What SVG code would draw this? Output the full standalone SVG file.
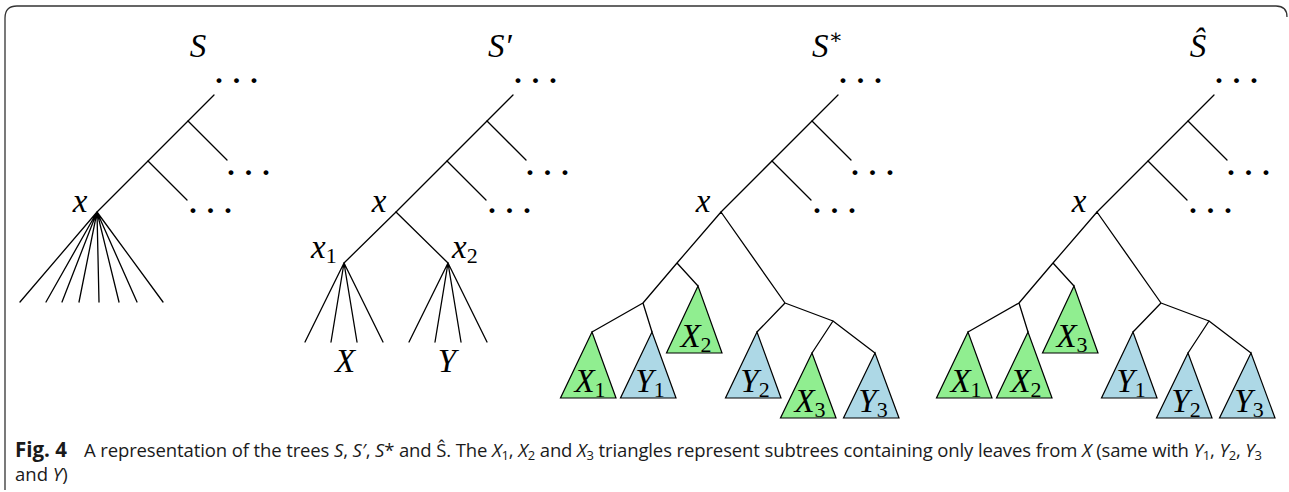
<svg xmlns="http://www.w3.org/2000/svg" width="1289" height="492" viewBox="0 0 1289 492">
<style>
.e{stroke:#000;stroke-width:1.3;fill:none;stroke-linecap:round}
.m{font-family:"Liberation Serif","DejaVu Serif",serif;font-style:italic;font-size:33px;fill:#000}
.d{font-family:"Liberation Serif","DejaVu Serif",serif;font-size:30px;font-weight:bold;fill:#000}
.g{fill:#90ee90;stroke:#000;stroke-width:1.2}
.b{fill:#add8e6;stroke:#000;stroke-width:1.2}
.cap{font-family:"Open Sans","Noto Sans","Liberation Sans",sans-serif;font-size:18.5px;fill:#1a1a1a}
.i{font-style:italic}
.s{font-size:22px;font-style:normal}
</style>
<rect width="1289" height="492" fill="#fff"/>
<path d="M5,490 L5,18 Q5,6 17,6 L1276,6 Q1287,6 1287,17" fill="none" stroke="#333" stroke-width="1.3"/>

<g id="connectors">
 <line class="e" x1="97" y1="212" x2="214" y2="95"/>
 <line class="e" x1="188" y1="121" x2="227" y2="160"/>
 <line class="e" x1="148" y1="161" x2="187" y2="200"/>
 <path class="e" d="M97,212 L20,302 M97,212 L46,302 M97,212 L62,302 M97,212 L79,302 M97,212 L99,302 M97,212 L119,302 M97,212 L137,302 M97,212 L163,302"/>
 <line class="e" x1="396" y1="212" x2="513" y2="95"/>
 <line class="e" x1="487" y1="121" x2="526" y2="160"/>
 <line class="e" x1="447" y1="161" x2="486" y2="200"/>
 <path class="e" d="M396,212 L344,263 M396,212 L448,263"/>
 <path class="e" d="M344,263 L305,342 M344,263 L331,342 M344,263 L357,342 M344,263 L383,342"/>
 <path class="e" d="M448,263 L409,342 M448,263 L435,342 M448,263 L461,342 M448,263 L487,342"/>
 <line class="e" x1="721" y1="212" x2="838" y2="95"/>
 <line class="e" x1="812" y1="121" x2="851" y2="160"/>
 <line class="e" x1="772" y1="161" x2="811" y2="200"/>
 <path class="e" d="M721,212 L677,263 M721,212 L785,303 M677,263 L643,303 M677,263 L698,286 M643,303 L592,332 M643,303 L652,332 M785,303 L757,332 M785,303 L833,321 M833,321 L812,353 M833,321 L875,353"/>
 <line class="e" x1="1097" y1="212" x2="1214" y2="95"/>
 <line class="e" x1="1188" y1="121" x2="1227" y2="160"/>
 <line class="e" x1="1148" y1="161" x2="1187" y2="200"/>
 <path class="e" d="M1097,212 L1053,263 M1097,212 L1161,303 M1053,263 L1019,303 M1053,263 L1074,286 M1019,303 L968,332 M1019,303 L1028,332 M1161,303 L1133,332 M1161,303 L1209,321 M1209,321 L1188,353 M1209,321 L1251,353"/>
</g>

<g id="tree-S">
 <g id="S-title"><text class="m" x="198" y="57" text-anchor="middle">S</text></g>
 <g id="S-dots"><text class="d" x="214" y="90">· · ·</text><text class="d" x="226" y="182">· · ·</text><text class="d" x="188" y="220">· · ·</text></g>
 <g id="S-x"><text class="m" x="80" y="212" text-anchor="middle">x</text></g>
</g>

<g id="tree-S1">
 <g id="S1-title"><text class="m" x="488" y="57">S′</text></g>
 <g id="S1-dots"><text class="d" x="513" y="90">· · ·</text><text class="d" x="525" y="182">· · ·</text><text class="d" x="487" y="220">· · ·</text></g>
 <g id="S1-x"><text class="m" x="379" y="212" text-anchor="middle">x</text></g>
 <g id="S1-x1"><text class="m" x="311" y="258">x<tspan class="s" dy="5">1</tspan></text></g>
 <g id="S1-x2"><text class="m" x="452" y="258">x<tspan class="s" dy="5">2</tspan></text></g>
 <g id="S1-X"><text class="m" x="345" y="372" text-anchor="middle">X</text></g>
 <g id="S1-Y"><text class="m" x="447" y="372" text-anchor="middle">Y</text></g>
</g>

<g id="tree-S2">
 <g id="S2-title"><text class="m" x="812" y="57">S<tspan font-size="21" dy="-13" font-style="normal">∗</tspan></text></g>
 <g id="S2-dots"><text class="d" x="838" y="90">· · ·</text><text class="d" x="850" y="182">· · ·</text><text class="d" x="812" y="220">· · ·</text></g>
 <g id="S2-x"><text class="m" x="703" y="212" text-anchor="middle">x</text></g>
 <g id="S2-X1"><path class="g" d="M592,332 L560.5,398 L616,398 Z"/><text class="m" x="590" y="392" text-anchor="middle">X<tspan class="s" dy="5">1</tspan></text></g>
 <g id="S2-Y1"><path class="b" d="M652,332 L620.5,398 L676,398 Z"/><text class="m" x="650" y="392" text-anchor="middle">Y<tspan class="s" dy="5">1</tspan></text></g>
 <g id="S2-X2"><path class="g" d="M698,286 L666.5,353 L722,353 Z"/><text class="m" x="696" y="347" text-anchor="middle">X<tspan class="s" dy="5">2</tspan></text></g>
 <g id="S2-Y2"><path class="b" d="M757,332 L725.5,398 L781,398 Z"/><text class="m" x="755" y="392" text-anchor="middle">Y<tspan class="s" dy="5">2</tspan></text></g>
 <g id="S2-X3"><path class="g" d="M812,353 L780.5,418 L836,418 Z"/><text class="m" x="810" y="412" text-anchor="middle">X<tspan class="s" dy="5">3</tspan></text></g>
 <g id="S2-Y3"><path class="b" d="M875,353 L843.5,418 L899,418 Z"/><text class="m" x="873" y="412" text-anchor="middle">Y<tspan class="s" dy="5">3</tspan></text></g>
</g>

<g id="tree-S3">
 <g id="S3-title"><text class="m" x="1198" y="57" text-anchor="middle">Ŝ</text></g>
 <g id="S3-dots"><text class="d" x="1214" y="90">· · ·</text><text class="d" x="1226" y="182">· · ·</text><text class="d" x="1188" y="220">· · ·</text></g>
 <g id="S3-x"><text class="m" x="1079" y="212" text-anchor="middle">x</text></g>
 <g id="S3-X1"><path class="g" d="M968,332 L936.5,398 L992,398 Z"/><text class="m" x="966" y="392" text-anchor="middle">X<tspan class="s" dy="5">1</tspan></text></g>
 <g id="S3-X2"><path class="g" d="M1028,332 L996.5,398 L1052,398 Z"/><text class="m" x="1026" y="392" text-anchor="middle">X<tspan class="s" dy="5">2</tspan></text></g>
 <g id="S3-X3"><path class="g" d="M1074,286 L1042.5,353 L1098,353 Z"/><text class="m" x="1072" y="347" text-anchor="middle">X<tspan class="s" dy="5">3</tspan></text></g>
 <g id="S3-Y1"><path class="b" d="M1133,332 L1101.5,398 L1157,398 Z"/><text class="m" x="1131" y="392" text-anchor="middle">Y<tspan class="s" dy="5">1</tspan></text></g>
 <g id="S3-Y2"><path class="b" d="M1188,353 L1156.5,418 L1212,418 Z"/><text class="m" x="1186" y="412" text-anchor="middle">Y<tspan class="s" dy="5">2</tspan></text></g>
 <g id="S3-Y3"><path class="b" d="M1251,353 L1219.5,418 L1275,418 Z"/><text class="m" x="1249" y="412" text-anchor="middle">Y<tspan class="s" dy="5">3</tspan></text></g>
</g>

<g id="caption">
 <text class="cap" x="15" y="457" style="font-weight:bold;font-size:20.5px">Fig. 4</text>
 <text class="cap" x="84" y="457" textLength="1178" lengthAdjust="spacing">A representation of the trees <tspan class="i">S</tspan>, <tspan class="i">S′</tspan>, <tspan class="i">S</tspan>* and Ŝ. The <tspan class="i">X</tspan><tspan font-size="13" dy="3">1</tspan><tspan dy="-3">, </tspan><tspan class="i">X</tspan><tspan font-size="13" dy="3">2</tspan><tspan dy="-3"> and </tspan><tspan class="i">X</tspan><tspan font-size="13" dy="3">3</tspan><tspan dy="-3"> triangles represent subtrees containing only leaves from </tspan><tspan class="i">X</tspan> (same with <tspan class="i">Y</tspan><tspan font-size="13" dy="3">1</tspan><tspan dy="-3">, </tspan><tspan class="i">Y</tspan><tspan font-size="13" dy="3">2</tspan><tspan dy="-3">, </tspan><tspan class="i">Y</tspan><tspan font-size="13" dy="3">3</tspan></text>
 <text class="cap" x="15" y="481">and <tspan class="i">Y</tspan>)</text>
</g>
</svg>
